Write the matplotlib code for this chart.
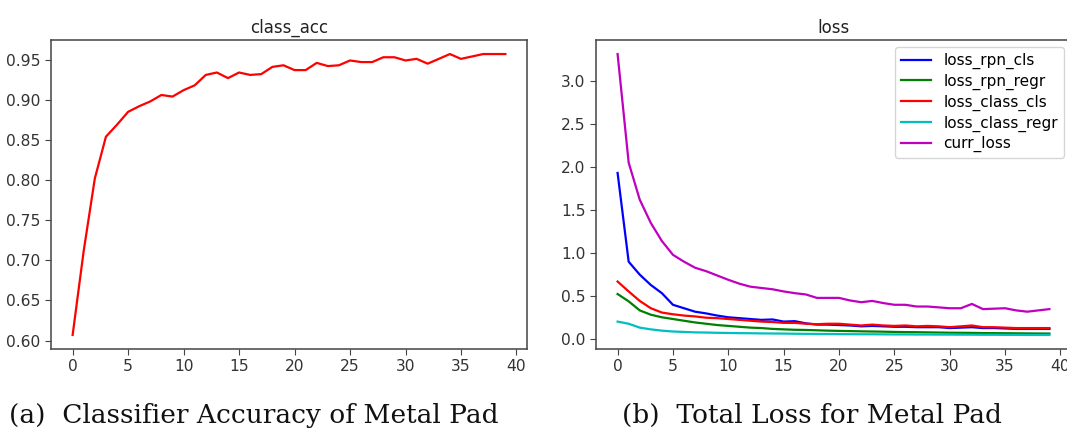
import matplotlib
matplotlib.use("Agg")
import matplotlib.pyplot as plt
import numpy as np

# Training history (one value per epoch)
epochs = list(range(40))

class_acc = [0.607, 0.712, 0.802, 0.854, 0.869, 0.885, 0.892, 0.898, 0.906, 0.904,
             0.912, 0.918, 0.931, 0.934, 0.927, 0.934, 0.931, 0.932, 0.941, 0.943,
             0.937, 0.937, 0.946, 0.942, 0.943, 0.949, 0.947, 0.947, 0.953, 0.953,
             0.949, 0.951, 0.945, 0.951, 0.957, 0.951, 0.954, 0.957, 0.957, 0.957]

loss_rpn_cls = [1.93, 0.90, 0.75, 0.63, 0.535, 0.40, 0.36, 0.32, 0.30, 0.275,
                0.255, 0.245, 0.235, 0.225, 0.23, 0.205, 0.21, 0.185, 0.17, 0.17,
                0.165, 0.16, 0.15, 0.155, 0.15, 0.145, 0.145, 0.14, 0.14, 0.14,
                0.13, 0.135, 0.14, 0.13, 0.13, 0.125, 0.12, 0.12, 0.12, 0.12]

loss_rpn_regr = [0.525, 0.44, 0.335, 0.285, 0.255, 0.235, 0.215, 0.195, 0.18, 0.165,
                 0.155, 0.145, 0.135, 0.13, 0.12, 0.115, 0.11, 0.108, 0.104, 0.10,
                 0.097, 0.095, 0.092, 0.09, 0.088, 0.085, 0.083, 0.082, 0.08, 0.078,
                 0.076, 0.075, 0.074, 0.072, 0.071, 0.07, 0.069, 0.068, 0.067, 0.066]

loss_class_cls = [0.67, 0.555, 0.445, 0.36, 0.31, 0.29, 0.275, 0.265, 0.25, 0.245,
                  0.235, 0.225, 0.215, 0.205, 0.20, 0.19, 0.19, 0.18, 0.175, 0.18,
                  0.18, 0.17, 0.16, 0.17, 0.16, 0.155, 0.16, 0.15, 0.155, 0.15,
                  0.14, 0.15, 0.16, 0.14, 0.14, 0.135, 0.13, 0.13, 0.13, 0.13]

loss_class_regr = [0.205, 0.18, 0.135, 0.115, 0.10, 0.09, 0.085, 0.08, 0.078, 0.075,
                   0.073, 0.071, 0.07, 0.068, 0.067, 0.066, 0.064, 0.063, 0.062, 0.061,
                   0.06, 0.059, 0.058, 0.058, 0.057, 0.056, 0.056, 0.055, 0.055, 0.054,
                   0.054, 0.053, 0.053, 0.052, 0.052, 0.051, 0.051, 0.05, 0.05, 0.05]

curr_loss = [3.31, 2.05, 1.62, 1.35, 1.14, 0.98, 0.90, 0.83, 0.79, 0.74,
             0.69, 0.645, 0.61, 0.595, 0.58, 0.555, 0.535, 0.52, 0.48, 0.48,
             0.48, 0.45, 0.43, 0.445, 0.42, 0.40, 0.40, 0.38, 0.38, 0.37,
             0.36, 0.36, 0.41, 0.35, 0.355, 0.36, 0.335, 0.32, 0.335, 0.35]

loss_series = [
    ("loss_rpn_cls", loss_rpn_cls, "b"),
    ("loss_rpn_regr", loss_rpn_regr, "g"),
    ("loss_class_cls", loss_class_cls, "r"),
    ("loss_class_regr", loss_class_regr, "c"),
    ("curr_loss", curr_loss, "m"),
]

W, H = 1067, 430
fig = plt.figure(figsize=(W / 100, H / 100), dpi=100)

def px_axes(x0, x1, y0, y1):
    return fig.add_axes([x0 / W, 1 - y1 / H, (x1 - x0) / W, (y1 - y0) / H])

def style(ax):
    for s in ax.spines.values():
        s.set_color("#444444")
        s.set_linewidth(1.1)
    ax.tick_params(labelsize=11.2, colors="#444444", labelcolor="#333333", length=4)

ax1 = px_axes(51, 527, 40, 349)
ax1.plot(epochs, class_acc, color="r", lw=1.6)
ax1.set_title("class_acc", fontsize=12, color="#222222", pad=5)
ax1.set_xticks(range(0, 41, 5))
ax1.set_yticks(np.arange(0.60, 0.951, 0.05))
style(ax1)

ax2 = px_axes(596, 1071, 40, 349)
for name, vals, col in loss_series:
    ax2.plot(epochs, vals, color=col, lw=1.6, label=name)
ax2.set_title("loss", fontsize=12, color="#222222", pad=5)
ax2.set_xticks(range(0, 41, 5))
ax2.set_yticks(np.arange(0.0, 3.01, 0.5))
style(ax2)
leg = ax2.legend(loc="upper right", fontsize=11, handlelength=2.0,
                 labelspacing=0.3, borderaxespad=0.45)
leg.get_frame().set_edgecolor("#cccccc")

cap_font = dict(family="DejaVu Serif", fontsize=19, color="#111111", va="baseline", ha="center")
fig.text(254 / W, 1 - 423 / H, "(a)  Classifier Accuracy of Metal Pad", **cap_font)
fig.text(812 / W, 1 - 423 / H, "(b)  Total Loss for Metal Pad", **cap_font)

fig.savefig("out.png", dpi=100)
